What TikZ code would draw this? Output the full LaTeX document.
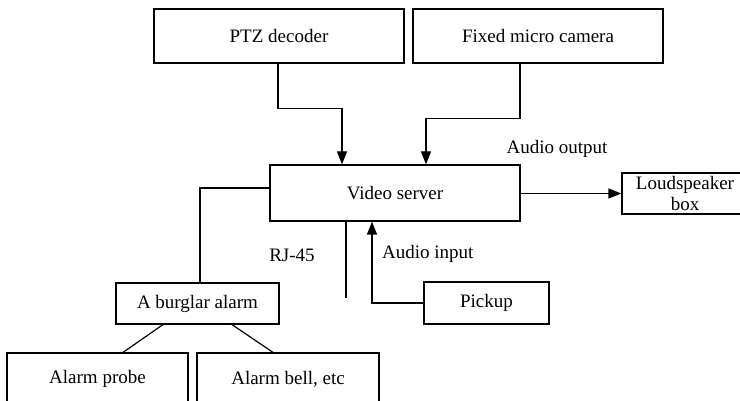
\documentclass[tikz,border=0pt]{standalone}
\usepackage{fontspec}
\setmainfont{Liberation Serif}
\usetikzlibrary{arrows.meta}
\begin{document}
\begin{tikzpicture}[x=1pt,y=-1pt,
  every node/.style={font=\fontsize{19}{21}\selectfont},
  blk/.style={draw,line width=1.2pt,inner sep=0pt,align=center},
  wire/.style={line width=1.2pt},
  arr/.style={wire,-{Triangle[length=13pt,width=10pt]}}]
\useasboundingbox (0,0) rectangle (740,401);
\begin{scope}
\clip (0,0) rectangle (740,401);
% blocks
\node[blk,minimum width=250pt,minimum height=54pt] (ptz) at (279,36) {PTZ decoder};
\node[blk,minimum width=250pt,minimum height=54pt] (cam) at (538,36) {Fixed micro camera};
\node[blk,minimum width=250pt,minimum height=56pt] (vs) at (395,193) {Video server};
\node[blk,minimum width=126pt,minimum height=41pt] (spk) at (685,193.5) {Loudspeaker\\[-0.5pt]box};
\node[blk,minimum width=125pt,minimum height=42pt] (pick) at (486.5,303) {Pickup};
\node[blk,minimum width=163pt,minimum height=41pt] (alarm) at (197.5,303.5) {A burglar alarm};
\node[blk,minimum width=181pt,minimum height=52pt] (probe) at (97.5,379) {Alarm probe};
\node[blk,minimum width=182pt,minimum height=52pt] (bell) at (288,379) {Alarm bell, etc};
\end{scope}
% labels
\node (aout) at (557,149) {Audio output};
\node (rj) at (292,255) {RJ-45};
\node[anchor=west,inner sep=0pt] (ain) at (382,254) {Audio input};
% connectors
\draw[arr] ([xshift=-1pt]ptz.south) -- ++(0,45) -| ([xshift=-53pt]vs.north);
\draw[arr] ([xshift=-18pt]cam.south) -- ++(0,55) -| ([xshift=31pt]vs.north);
\draw[arr] (vs.east |- spk.west) -- (spk.west);
\draw[wire] ([yshift=5pt]vs.west) -| ([xshift=2.5pt]alarm.north);
\coordinate (rjend) at (346,298);
\draw[wire] (vs.south -| rjend) -- (rjend);
\draw[arr] (pick.west) -| ([xshift=-23pt]vs.south);
\draw[wire] ([xshift=-34.5pt]alarm.south) -- ([xshift=25.5pt]probe.north);
\draw[wire] ([xshift=34.5pt]alarm.south) -- ([xshift=-15pt]bell.north);
\end{tikzpicture}
\end{document}
